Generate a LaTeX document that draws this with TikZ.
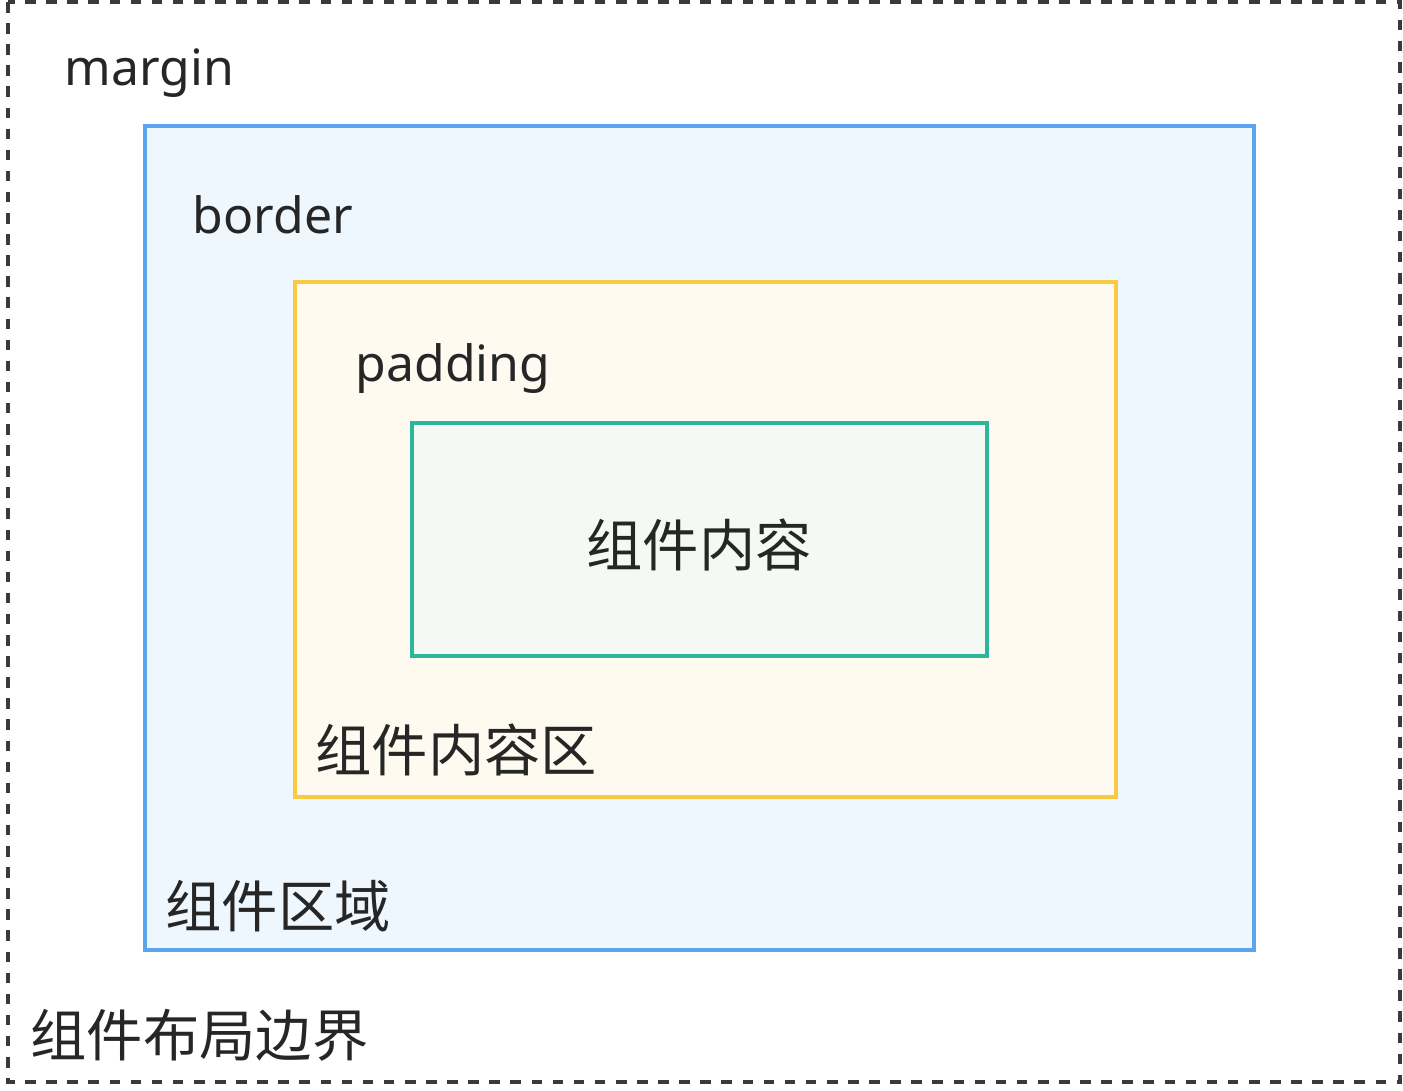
\documentclass[tikz,border=0pt]{standalone}
\usepackage{fontspec}
\setmainfont{Noto Sans}
\newfontfamily\cjk{Noto Sans CJK SC}
\usepackage{xcolor}
\definecolor{outerline}{HTML}{3A3A3A}
\definecolor{arealine}{HTML}{5AA5EE}
\definecolor{areafill}{HTML}{EFF7FE}
\definecolor{padline}{HTML}{F8C942}
\definecolor{padfill}{HTML}{FEFAF0}
\definecolor{contline}{HTML}{2DB79A}
\definecolor{contfill}{HTML}{F4F9F4}

\tikzset{
  latinlabel/.style={anchor=base west, inner sep=0pt, text=black!85, font=\fontsize{14.2}{16}\selectfont},
  cjklabel/.style={anchor=west, inner sep=0pt, text=black!85, font=\cjk\fontsize{16}{18}\selectfont}
}

\begin{document}
\begin{tikzpicture}[x=0.01cm, y=-0.01cm]
        \useasboundingbox (0,0) rectangle (1403,1090);
        % boxes, outside in
        \draw[outerline, dashed, line width=1.1pt] (8,2) rectangle (1400,1082);
        \draw[arealine, fill=areafill, line width=1pt] (145,126) rectangle (1254,950);
        \draw[padline, fill=padfill, line width=1pt] (295,282) rectangle (1116,797);
        \draw[contline, fill=contfill, line width=1pt] (412,423) rectangle (987,656);
        % labels
        \node[latinlabel] (margin) at (64,85) {margin};
        \node[latinlabel] (border) at (192,233) {border};
        \node[latinlabel] (padding) at (355,381) {padding};
        \node[cjklabel, anchor=center] (content) at (699,545) {组件内容};
        \node[cjklabel] (contentarea) at (315,750) {组件内容区};
        \node[cjklabel] (comparea) at (165,906) {组件区域};
        \node[cjklabel] (layoutedge) at (30,1035) {组件布局边界};
    \end{tikzpicture}
\end{document}
